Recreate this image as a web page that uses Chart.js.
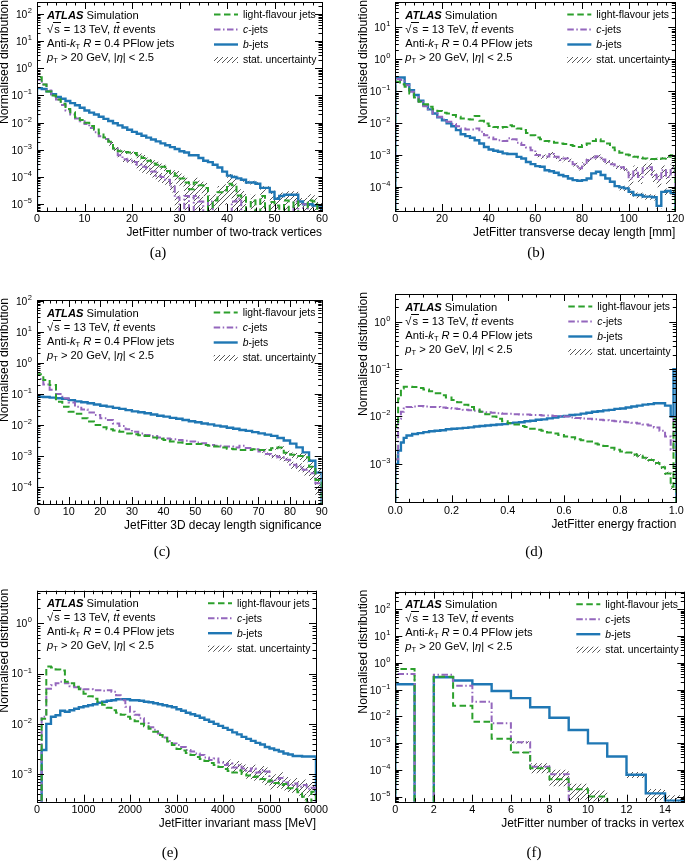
<!DOCTYPE html>
<html>
<head>
<meta charset="utf-8">
<style>
  body { margin: 0; background: #fff; }
  #page { position: relative; width: 685px; height: 861px; overflow: hidden; font-family: "Liberation Sans", Arial, sans-serif; }
  #page canvas { position: absolute; left: 0; top: 0; }
  .ann, .leg { position: absolute; font-size: 11.2px; color: #000; white-space: nowrap; }
  .leg { font-size: 10.4px; }
  .ann div { height: 14px; line-height: 14px; }
  .leg div { height: 15px; line-height: 15px; }
  sub { font-size: 7.5px; vertical-align: -2px; line-height: 0; }
  .rad { border-top: 1px solid #000; padding: 0 1px; }
  .bar { text-decoration: overline; }
</style>
<script src="https://cdn.jsdelivr.net/npm/chart.js"></script>
</head>
<body>
<div id="page"></div>
<script>
// values are log10 of the normalised fraction per bin; null = empty bin

// (a) number of two-track vertices, 1-unit bins 0..60
const aLight = [-0.33,-0.6,-0.85,-1.0,-1.15,-1.3,-1.5,-1.62,-1.8,-1.9,
  -2.0,-2.12,-2.25,-2.4,-2.55,-2.7,-2.95,-3.05,-3.08,-3.1,
  -3.12,-3.2,-3.3,-3.4,-3.5,-3.55,-3.62,-3.78,-3.85,-3.95,
  -4.05,-4.2,-4.45,-4.2,-4.3,-4.4,null,-4.86,-4.56,-4.5,
  -4.25,-4.3,-4.68,-4.74,null,-4.86,null,-4.7,null,-4.92,
  -5.05,null,-4.86,null,-4.9,null,null,-4.86,-4.9,null];
const aC = [-0.42,-0.6,-0.82,-1.0,-1.15,-1.35,-1.55,-1.7,-1.85,-1.95,
  -2.05,-2.2,-2.35,-2.5,-2.6,-2.75,-2.95,-3.2,-3.35,-3.4,
  -3.45,-3.55,-3.62,-3.7,-3.8,-3.95,-4.0,-4.1,-4.35,-4.75,
  null,-4.7,null,-4.7,-4.9,null,-4.9,null,null,null,
  null,-4.9,-4.8,null,null,null,null,null,null,null,
  null,null,null,null,-4.9,null,-5.0,null,null,null];
const aB = [-0.73,-0.76,-0.85,-0.95,-1.05,-1.12,-1.2,-1.28,-1.36,-1.45,
  -1.55,-1.63,-1.7,-1.78,-1.86,-1.94,-2.02,-2.1,-2.18,-2.26,
  -2.34,-2.41,-2.48,-2.55,-2.62,-2.69,-2.76,-2.83,-2.9,-2.97,
  -3.05,-3.1,-3.2,-3.2,-3.3,-3.4,-3.45,-3.55,-3.65,-3.8,
  -3.95,-4.0,-4.05,-4.1,-4.2,-4.2,-4.25,-4.4,-4.4,-4.55,
  -4.8,-4.7,-4.65,-4.65,-4.65,-4.9,-5.0,-5.0,-5.05,-5.05];
const aLightErr = [0,0,0,0,0,0,0,0,0,0, 0,0,0,0,0,0.15,0.15,0.15,0.15,0.15,
  0.15,0.3,0.3,0.3,0.3,0.3,0.3,0.3,0.3,0.5, 0.5,0.5,0.5,0.5,0.5,0.5,0.7,0.7,0.7,0.7,
  0.7,0.7,0.7,0.7,0.7,0.7,0.7,0.7,0.7,0.7, 0.7,0.7,0.7,0.7,0.7,0.7,0.7,0.7,0.7,0.7];
const aCErr = [0,0,0,0,0,0,0,0,0,0, 0,0,0,0,0,0.2,0.2,0.2,0.2,0.2,
  0.2,0.4,0.4,0.4,0.4,0.4,0.4,0.4,0.4,0.7, 0.7,0.7,0.7,0.7,0.7,0.7,0.7,0.7,0.7,0.7,
  0.7,0.7,0.7,0.7,0.7,0.7,0.7,0.7,0.7,0.7, 0.7,0.7,0.7,0.7,0.7,0.7,0.7,0.7,0.7,0.7];
const aBErr = [0,0,0,0,0,0,0,0,0,0, 0,0,0,0,0,0,0,0,0,0,
  0,0,0,0,0,0,0,0,0,0, 0,0,0,0,0,0,0,0,0,0,
  0.15,0.15,0.15,0.15,0.15,0.15,0.15,0.15,0.15,0.15, 0.35,0.35,0.35,0.35,0.35,0.35,0.35,0.35,0.35,0.35];

// (b) transverse decay length, 2 mm bins 0..120
const bLight = [-0.7,-0.78,-0.86,-1.07,-1.2,-1.33,-1.41,-1.49,-1.57,-1.62,
  -1.68,-1.7,-1.75,-1.8,-1.86,-1.88,-1.89,-1.78,-1.93,-2.01,
  -2.09,-2.12,-2.15,-2.12,-2.07,-2.1,-2.17,-2.22,-2.31,-2.38,
  -2.45,-2.51,-2.56,-2.59,-2.62,-2.64,-2.66,-2.69,-2.72,-2.75,
  -2.69,-2.64,-2.56,-2.51,-2.57,-2.64,-2.77,-2.85,-2.93,-2.99,
  -3.01,-3.06,-3.08,-3.11,-3.13,-3.13,-3.12,-3.11,-3.06,-3.01];
const bC = [-0.62,-0.65,-0.81,-1.02,-1.18,-1.33,-1.47,-1.57,-1.7,-1.8,
  -1.89,-1.96,-2.03,-2.1,-2.17,-2.2,-2.2,-2.17,-2.27,-2.38,
  -2.45,-2.51,-2.54,-2.56,-2.48,-2.51,-2.62,-2.69,-2.77,-2.85,
  -3.0,-3.05,-3.05,-2.97,-3.06,-3.16,-3.11,-3.18,-3.29,-3.42,
  -3.29,-3.16,-3.08,-3.04,-3.14,-3.22,-3.29,-3.37,-3.39,-3.48,
  -3.74,-3.48,-3.69,-3.42,-3.39,-3.63,-3.79,-3.48,-3.69,-3.42];
const bB = [-0.57,-0.57,-0.78,-0.97,-1.12,-1.3,-1.44,-1.57,-1.7,-1.82,
  -1.91,-2.01,-2.1,-2.22,-2.35,-2.41,-2.46,-2.54,-2.64,-2.75,
  -2.83,-2.87,-2.9,-2.95,-2.97,-2.97,-3.06,-3.11,-3.22,-3.29,
  -3.35,-3.37,-3.48,-3.51,-3.56,-3.63,-3.67,-3.74,-3.79,-3.81,
  -3.79,-3.74,-3.58,-3.53,-3.63,-3.74,-3.84,-3.98,-4.02,-4.05,
  -4.16,-4.26,-4.26,-4.31,-4.31,-4.33,-4.6,-4.16,-4.13,-4.19];
const bLightErr = [0,0,0,0,0,0,0,0,0,0, 0,0,0,0,0,0,0,0,0,0, 0,0,0,0,0,0,0,0,0,0,
  0,0,0,0,0,0,0,0,0,0, 0,0,0,0,0,0,0,0,0,0, 0.08,0.08,0.08,0.08,0.08,0.08,0.08,0.08,0.08,0.08];
const bCErr = [0,0,0,0,0,0,0,0,0,0, 0,0,0,0,0,0,0,0,0,0, 0,0,0,0,0,0,0,0,0,0,
  0.15,0.15,0.15,0.15,0.15,0.15,0.15,0.15,0.15,0.15, 0.15,0.15,0.15,0.15,0.15,0.15,0.15,0.15,0.15,0.15,
  0.4,0.4,0.4,0.4,0.4,0.4,0.4,0.4,0.4,0.4];
const bBErr = [0,0,0,0,0,0,0,0,0,0, 0,0,0,0,0,0,0,0,0,0, 0,0,0,0,0,0,0,0,0,0,
  0,0,0,0,0,0,0,0,0,0, 0,0,0,0,0,0,0,0,0.2,0.2, 0.2,0.2,0.2,0.2,0.2,0.2,0.2,0.2,0.2,0.2];

// (c) 3D decay length significance, 2-unit bins 0..90
const cLight = [-0.37,-0.55,-0.71,-1.25,-1.41,-1.57,-1.64,-1.78,-1.89,-2.0,
  -2.07,-2.14,-2.18,-2.22,-2.27,-2.3,-2.33,-2.35,-2.4,-2.44,
  -2.48,-2.53,-2.56,-2.61,-2.61,-2.61,-2.64,-2.67,-2.69,-2.72,
  -2.76,-2.78,-2.8,-2.8,-2.78,-2.8,-2.8,-2.75,-2.72,-2.89,
  -2.96,-3.0,-3.04,-3.34,-3.77];
const cC = [-0.52,-0.7,-0.87,-1.0,-1.14,-1.28,-1.41,-1.5,-1.6,-1.68,
  -1.78,-1.84,-1.95,-2.03,-2.14,-2.22,-2.27,-2.32,-2.35,-2.4,
  -2.43,-2.46,-2.48,-2.51,-2.53,-2.56,-2.59,-2.64,-2.67,-2.69,
  -2.69,-2.72,-2.67,-2.74,-2.78,-2.85,-2.93,-3.0,-3.04,-3.12,
  -3.28,-3.34,-3.44,-3.55,-3.87];
const cB = [-1.09,-1.1,-1.12,-1.14,-1.16,-1.2,-1.24,-1.27,-1.3,-1.34,
  -1.38,-1.41,-1.45,-1.48,-1.52,-1.56,-1.59,-1.62,-1.66,-1.7,
  -1.73,-1.77,-1.8,-1.84,-1.88,-1.91,-1.95,-1.98,-2.02,-2.05,
  -2.09,-2.12,-2.16,-2.19,-2.23,-2.27,-2.31,-2.35,-2.42,-2.5,
  -2.6,-2.72,-2.88,-3.15,-3.53];
const cLightErr = [0,0,0,0,0,0,0,0,0,0, 0,0,0,0,0,0,0,0,0,0, 0,0,0,0,0,0,0,0,0,0,
  0,0,0,0,0,0,0.08,0.1,0.12,0.15, 0.2,0.25,0.3,0.4,0.6];
const cCErr = [0,0,0,0,0,0,0,0,0,0, 0,0,0,0,0,0,0,0,0,0, 0,0,0,0,0,0,0,0,0,0,
  0,0,0,0,0,0.1,0.12,0.15,0.2,0.2, 0.25,0.3,0.35,0.4,0.6];
const cBErr = [0,0,0,0,0,0,0,0,0,0, 0,0,0,0,0,0,0,0,0,0, 0,0,0,0,0,0,0,0,0,0,
  0,0,0,0,0,0,0,0,0,0, 0,0,0,0.1,0.3];

// (d) energy fraction, finer bins at both ends
const dEdges = [0,0.01,0.02,0.03,0.04,0.06,0.08,0.10,0.12,0.14,0.16,0.18,0.20,0.22,0.24,0.26,0.28,0.30,
  0.32,0.34,0.36,0.38,0.40,0.42,0.44,0.46,0.48,0.50,0.52,0.54,0.56,0.58,0.60,0.62,0.64,0.66,0.68,
  0.70,0.72,0.74,0.76,0.78,0.80,0.82,0.84,0.86,0.88,0.90,0.92,0.94,0.96,0.98,0.99,1.0];
const dLight = [-2.2,-1.62,-1.41,-1.37,
  -1.37,-1.38,-1.4,-1.43,-1.47,-1.51,-1.55,-1.6,-1.65,-1.7,
  -1.75,-1.8,-1.85,-1.9,-1.95,-2.0,-2.05,-2.1,-2.14,-2.17,
  -2.2,-2.22,-2.26,-2.28,-2.3,-2.34,-2.36,-2.39,-2.42,-2.44,
  -2.48,-2.5,-2.53,-2.57,-2.59,-2.62,-2.66,-2.7,-2.74,-2.76,
  -2.8,-2.83,-2.87,-2.92,-2.98,-3.07,-3.2,
  -3.48,-2.05];
const dC = [-2.9,-2.05,-1.9,-1.83,
  -1.8,-1.79,-1.78,-1.79,-1.8,-1.8,-1.81,-1.82,-1.83,-1.84,
  -1.86,-1.87,-1.88,-1.9,-1.91,-1.92,-1.93,-1.94,-1.94,-1.95,
  -1.96,-1.96,-1.97,-1.97,-1.98,-1.98,-1.99,-1.99,-2.0,-2.02,
  -2.03,-2.04,-2.05,-2.06,-2.07,-2.08,-2.09,-2.1,-2.11,-2.12,
  -2.13,-2.15,-2.17,-2.19,-2.23,-2.3,-2.42,
  -2.7,-2.02];
const dB = [-3.0,-2.72,-2.55,-2.45,
  -2.4,-2.37,-2.35,-2.33,-2.31,-2.3,-2.29,-2.27,-2.26,-2.25,
  -2.24,-2.23,-2.21,-2.2,-2.19,-2.18,-2.17,-2.16,-2.14,-2.13,
  -2.12,-2.1,-2.09,-2.07,-2.06,-2.04,-2.02,-2.0,-1.99,-1.97,
  -1.96,-1.94,-1.92,-1.9,-1.89,-1.87,-1.86,-1.84,-1.83,-1.81,
  -1.79,-1.77,-1.75,-1.74,-1.72,-1.72,-1.77,
  -2.0,-1.0];
const dLightErr = [0,0,0,0, 0,0,0,0,0,0,0,0,0,0, 0,0,0,0,0,0,0,0,0,0, 0,0,0,0,0,0,0,0,0,0,
  0,0,0,0,0,0,0,0,0,0, 0.08,0.08,0.08,0.08,0.08,0.08,0.08, 0.15,0.05];

// (e) invariant mass, 100 MeV bins 0..6000
const eLight = [null,-1.9,-0.86,-0.88,-0.92,-0.94,-1.16,-1.19,-1.26,-1.31,
  -1.4,-1.45,-1.5,-1.56,-1.62,-1.68,-1.73,-1.78,-1.82,-1.86,
  -1.9,-1.95,-2.0,-2.05,-2.1,-2.16,-2.22,-2.28,-2.35,-2.42,
  -2.5,-2.53,-2.58,-2.62,-2.66,-2.7,-2.74,-2.78,-2.82,-2.86,
  -2.9,-2.94,-2.97,-2.93,-3.0,-3.03,-3.06,-3.05,-3.1,-3.15,
  -3.13,-3.18,-3.22,-3.2,-3.28,-3.3,-3.36,-3.45,-3.6,-3.35];
const eC = [null,-1.86,-1.3,-1.23,-1.19,-1.16,-1.19,-1.25,-1.27,-1.29,
  -1.31,-1.31,-1.33,-1.33,-1.34,-1.33,-1.36,-1.43,-1.53,-1.66,
  -1.76,-1.82,-1.89,-1.99,-2.07,-2.12,-2.19,-2.27,-2.34,-2.39,
  -2.42,-2.46,-2.52,-2.55,-2.59,-2.62,-2.67,-2.72,-2.69,-2.77,
  -2.82,-2.79,-2.87,-2.82,-2.89,-2.94,-2.89,-2.97,-2.92,-2.95,
  -3.15,-3.12,-3.08,-3.17,-3.22,-3.19,-3.25,-3.22,-3.29,-3.27];
const eB = [null,-2.52,-2.0,-1.86,-1.83,-1.74,-1.76,-1.73,-1.7,-1.67,
  -1.65,-1.63,-1.61,-1.58,-1.56,-1.54,-1.53,-1.51,-1.51,-1.51,
  -1.53,-1.53,-1.54,-1.56,-1.57,-1.59,-1.61,-1.63,-1.65,-1.67,
  -1.71,-1.74,-1.78,-1.81,-1.84,-1.88,-1.92,-1.96,-2.0,-2.04,
  -2.08,-2.12,-2.17,-2.21,-2.26,-2.3,-2.34,-2.38,-2.41,-2.46,
  -2.49,-2.52,-2.55,-2.59,-2.61,-2.64,-2.64,-2.65,-2.65,-2.65];
const eLightErr = [0,0,0,0,0,0,0,0,0,0, 0,0,0,0,0,0,0,0,0,0, 0,0,0,0,0,0,0,0,0,0,
  0,0,0,0,0,0,0,0,0,0, 0,0,0,0,0,0.15,0.15,0.15,0.15,0.15, 0.15,0.15,0.15,0.15,0.15,0.15,0.15,0.15,0.15,0.15];
const eCErr = [0,0,0,0,0,0,0,0,0,0, 0,0,0,0,0,0,0,0,0,0, 0,0,0,0,0,0,0,0,0,0,
  0,0,0,0,0,0,0,0,0,0, 0.2,0.2,0.2,0.2,0.2,0.2,0.2,0.2,0.2,0.2, 0.3,0.3,0.3,0.3,0.3,0.3,0.3,0.3,0.3,0.3];

// (f) number of tracks in vertex, 1-unit bins 0..15
const fLight = [-0.23,null,-0.52,-1.6,-2.2,-2.84,-3.35,-3.94,-4.35,-4.72,-5.0,null,null,null,null];
const fC = [-0.42,null,-0.44,-0.86,-1.45,-2.26,-2.97,-3.88,-4.16,null,null,null,null,null,null];
const fB = [-0.8,null,-0.54,-0.66,-0.8,-1.05,-1.32,-1.66,-2.05,-2.51,-3.01,-3.5,-4.18,-4.88,-5.15];
const fLightErr = [0,0,0,0,0,0,0.05,0.35,0.45,0.6,0.7,0,0,0,0];
const fCErr = [0,0,0,0,0,0,0.1,0.35,0.45,0,0,0,0,0,0];
const fBErr = [0,0,0,0,0,0,0,0,0,0,0,0,0.25,0.45,0.6];

const yTitle = 'Normalised distribution';
const legendLabels = ['light-flavour jets', '<i>c</i>-jets', '<i>b</i>-jets', 'stat. uncertainty'];

function binEdges(start, width, n) {
  const e = [];
  for (let i = 0; i <= n; i++) e.push(+(start + i * width).toFixed(4));
  return e;
}

// plot boxes (page pixels), x: [min, max, major, minor, decimals], y: log10 range
const panels = [
  { L: 37, T: 2, R: 322, B: 211, x: [0, 60, 10, 2, 0], y: [-5.25, 2.44],
    title: 'JetFitter number of two-track vertices', cap: ['(a)', 158, 253],
    edges: binEdges(0, 1, 60), light: [aLight, aLightErr], c: [aC, aCErr], b: [aB, aBErr] },
  { L: 395.3, T: 2, R: 675.3, B: 211, x: [0, 120, 20, 4, 0], y: [-4.76, 1.8],
    title: 'JetFitter transverse decay length [mm]', cap: ['(b)', 536, 253],
    edges: binEdges(0, 2, 60), light: [bLight, bLightErr], c: [bC, bCErr], b: [bB, bBErr] },
  { L: 37, T: 300, R: 321.7, B: 504, x: [0, 90, 10, 2, 0], y: [-4.54, 2.02],
    title: 'JetFitter 3D decay length significance', cap: ['(c)', 162, 552],
    edges: binEdges(0, 2, 45), light: [cLight, cLightErr], c: [cC, cCErr], b: [cB, cBErr] },
  { L: 395.3, T: 294, R: 676.3, B: 502.3, x: [0, 1, 0.2, 0.05, 1], y: [-3.81, 0.584],
    title: 'JetFitter energy fraction', cap: ['(d)', 534, 552],
    edges: dEdges, light: [dLight, dLightErr], c: [dC, null], b: [dB, null] },
  { L: 37, T: 590.7, R: 316, B: 801.7, x: [0, 6000, 1000, 200, 0], y: [-3.55, 0.65],
    title: 'JetFitter invariant mass [MeV]', cap: ['(e)', 170, 853],
    edges: binEdges(0, 100, 60), light: [eLight, eLightErr], c: [eC, eCErr], b: [eB, null] },
  { L: 395.3, T: 591.7, R: 684.3, B: 801.7, x: [0, 15, 2, 0.5, 0], y: [-5.19, 2.66],
    title: 'JetFitter number of tracks in vertex', cap: ['(f)', 534, 853],
    edges: binEdges(0, 1, 15), light: [fLight, fLightErr], c: [fC, fCErr], b: [fB, fBErr] }
];

const styles = {
  light: { color: '#2ca02c', width: 2, dash: [6.5, 3.5] },
  c: { color: '#9467bd', width: 2, dash: [6.5, 2.5, 1.5, 2.5] },
  b: { color: '#1f77b4', width: 2.4, dash: [] }
};

const TINY = 1e-12;
const lin = v => (v === null ? TINY : Math.pow(10, v));

function histPoints(edges, vals) {
  const pts = [{ x: edges[0], y: TINY }];
  vals.forEach((v, i) => pts.push({ x: edges[i], y: lin(v) }));
  pts.push({ x: edges[vals.length], y: TINY });
  return pts;
}

function bandPoints(edges, vals, errs, side) {
  const pts = vals.map((v, i) => ({ x: edges[i], y: v === null ? TINY : lin(v) * (1 + side * errs[i]) }));
  pts.push({ x: edges[vals.length], y: pts[pts.length - 1].y });
  return pts;
}

function makeHatch() {
  const c = document.createElement('canvas');
  c.width = c.height = 5;
  const g = c.getContext('2d');
  g.strokeStyle = '#444';
  g.lineWidth = 0.9;
  g.beginPath();
  g.moveTo(0, 5); g.lineTo(5, 0);
  g.moveTo(-1, 1); g.lineTo(1, -1);
  g.moveTo(4, 6); g.lineTo(6, 4);
  g.stroke();
  return g.createPattern(c, 'repeat');
}
const hatch = makeHatch();

const FONT = '"Liberation Sans", Arial, sans-serif';

function framePlugin(p) {
  return {
    id: 'frame',
    afterDraw(chart) {
      const ctx = chart.ctx, a = chart.chartArea;
      const xs = chart.scales.x, ys = chart.scales.y;
      const [x0, x1, major, minor, dec] = p.x;
      ctx.save();
      ctx.setLineDash([]);
      ctx.strokeStyle = '#000';
      ctx.lineWidth = 1;
      ctx.strokeRect(Math.round(a.left) + 0.5, Math.round(a.top) + 0.5,
        Math.round(a.right) - Math.round(a.left), Math.round(a.bottom) - Math.round(a.top));
      ctx.beginPath();
      const nMinor = Math.round((x1 - x0) / minor);
      for (let k = 0; k <= nMinor; k++) {
        const v = x0 + k * minor;
        const isMajor = Math.abs(v / major - Math.round(v / major)) < 1e-6;
        const len = isMajor ? 7 : 3.5;
        const px = Math.round(xs.getPixelForValue(v)) + 0.5;
        ctx.moveTo(px, a.bottom); ctx.lineTo(px, a.bottom - len);
        ctx.moveTo(px, a.top); ctx.lineTo(px, a.top + len);
      }
      for (let e = Math.floor(p.y[0]); e <= Math.floor(p.y[1]); e++) {
        for (let m = 1; m <= 9; m++) {
          const lg = e + Math.log10(m);
          if (lg < p.y[0] || lg > p.y[1]) continue;
          const py = Math.round(ys.getPixelForValue(m * Math.pow(10, e))) + 0.5;
          const len = m === 1 ? 7 : 3.5;
          ctx.moveTo(a.left, py); ctx.lineTo(a.left + len, py);
          ctx.moveTo(a.right, py); ctx.lineTo(a.right - len, py);
        }
      }
      ctx.stroke();

      ctx.fillStyle = '#000';
      // x tick labels
      ctx.font = '10.8px ' + FONT;
      ctx.textAlign = 'center';
      ctx.textBaseline = 'middle';
      const nMajor = Math.round((x1 - x0) / major);
      for (let k = 0; k <= nMajor; k++) {
        const v = x0 + k * major;
        ctx.fillText(v.toFixed(dec), xs.getPixelForValue(v), a.bottom + 8.5);
      }
      // y tick labels 10^n
      ctx.textAlign = 'right';
      ctx.textBaseline = 'alphabetic';
      for (let e = Math.ceil(p.y[0]); e <= Math.floor(p.y[1]); e++) {
        const py = ys.getPixelForValue(Math.pow(10, e));
        const exp = e < 0 ? '\u2212' + (-e) : String(e);
        ctx.font = '7.5px ' + FONT;
        const ew = ctx.measureText(exp).width;
        ctx.fillText(exp, a.left - 5, py - 1);
        ctx.font = '10.3px ' + FONT;
        ctx.fillText('10', a.left - 5 - ew - 0.5, py + 3.9);
      }
      // axis titles
      ctx.font = '11.9px ' + FONT;
      ctx.textAlign = 'right';
      ctx.textBaseline = 'middle';
      ctx.fillText(p.title, a.right, a.bottom + 22);
      ctx.save();
      ctx.translate(a.left - 32, a.top - 2);
      ctx.rotate(-Math.PI / 2);
      ctx.font = '12.2px ' + FONT;
      ctx.fillText(yTitle, 0, 0);
      ctx.restore();
      // caption
      ctx.font = '15px "Liberation Serif", "Times New Roman", serif';
      ctx.textAlign = 'center';
      ctx.fillText(p.cap[0], p.cap[1], p.cap[2]);

      // legend swatches
      const lx0 = a.right - 108, lx1 = a.right - 84;
      ['light', 'c', 'b'].forEach((k, i) => {
        const s = styles[k];
        const ly = a.top + 12.5 + 15 * i;
        ctx.strokeStyle = s.color;
        ctx.lineWidth = s.width;
        ctx.setLineDash(s.dash);
        ctx.beginPath();
        ctx.moveTo(lx0, ly); ctx.lineTo(lx1, ly);
        ctx.stroke();
      });
      ctx.setLineDash([]);
      ctx.fillStyle = hatch;
      ctx.fillRect(lx0, a.top + 55, lx1 - lx0, 6);
      ctx.restore();
    }
  };
}

const page = document.getElementById('page');

const annHtml =
  '<div><b><i>ATLAS</i></b> Simulation</div>' +
  '<div>\u221A<span class="rad">s</span> = 13 TeV, <i>t</i><i class="bar">t</i> events</div>' +
  '<div>Anti-<i>k</i><sub>T</sub> <i>R</i> = 0.4 PFlow jets</div>' +
  '<div><i>p</i><sub>T</sub> &gt; 20 GeV, |<i>\u03B7</i>| &lt; 2.5</div>';

panels.forEach(p => {
  const canvas = document.createElement('canvas');
  canvas.width = 685;
  canvas.height = 861;
  page.appendChild(canvas);

  const datasets = [];
  const bands = [];
  ['light', 'c', 'b'].forEach(k => {
    const s = styles[k];
    const [vals, errs] = p[k];
    datasets.push({
      data: histPoints(p.edges, vals),
      borderColor: s.color, borderWidth: s.width, borderDash: s.dash,
      stepped: true, pointRadius: 0, fill: false
    });
    if (errs) {
      bands.push({
        data: bandPoints(p.edges, vals, errs, 1),
        borderColor: 'rgba(0,0,0,0)', borderWidth: 0, stepped: true, pointRadius: 0, fill: false
      });
      bands.push({
        data: bandPoints(p.edges, vals, errs, -1),
        borderColor: 'rgba(0,0,0,0)', borderWidth: 0, stepped: true, pointRadius: 0,
        fill: '-1', backgroundColor: hatch
      });
    }
  });

  new Chart(canvas, {
    type: 'line',
    data: { datasets: datasets.concat(bands) },
    options: {
      responsive: false,
      animation: false,
      devicePixelRatio: 1,
      events: [],
      layout: { padding: { left: p.L, top: p.T, right: 685 - p.R, bottom: 861 - p.B } },
      scales: {
        x: { type: 'linear', display: false, min: p.x[0], max: p.x[1], bounds: 'data' },
        y: { type: 'logarithmic', display: false, min: Math.pow(10, p.y[0]), max: Math.pow(10, p.y[1]), bounds: 'data' }
      },
      plugins: { legend: { display: false }, tooltip: { enabled: false } }
    },
    plugins: [framePlugin(p)]
  });

  const ann = document.createElement('div');
  ann.className = 'ann';
  ann.style.left = (p.L + 10) + 'px';
  ann.style.top = (p.T + 5.5) + 'px';
  ann.innerHTML = annHtml;
  page.appendChild(ann);

  const leg = document.createElement('div');
  leg.className = 'leg';
  leg.style.left = (p.R - 79) + 'px';
  leg.style.top = (p.T + 5) + 'px';
  leg.innerHTML = legendLabels.map(t => '<div>' + t + '</div>').join('');
  page.appendChild(leg);
});
</script>
</body>
</html>
